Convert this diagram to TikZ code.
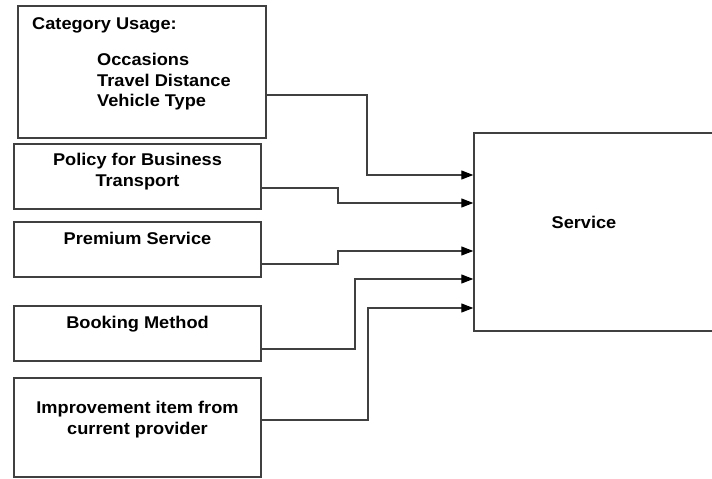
\documentclass[tikz,border=0pt]{standalone}
\usepackage{fontspec}
\setmainfont{Liberation Sans}[FakeStretch=1.07]
\usetikzlibrary{arrows.meta}

\begin{document}
\begin{tikzpicture}[x=1pt,y=-1pt,font=\fontsize{17}{20.5}\selectfont\bfseries]
\tikzstyle{box} = [rectangle, draw=black!75, line width=1.4pt, inner sep=0pt]
\tikzstyle{txt} = [inner sep=0pt, align=center, anchor=north]
\tikzstyle{arrow} = [draw=black!75, line width=1.2pt, -{Triangle[length=12pt,width=9pt,color=black]}]

\clip (0,0) rectangle (712,479);

\node (usage) [box, minimum width=248pt, minimum height=132pt] at (142,72) {};
\node (policy) [box, minimum width=247pt, minimum height=65pt] at (137.5,176.5) {};
\node (premium) [box, minimum width=247pt, minimum height=55pt] at (137.5,249.5) {};
\node (booking) [box, minimum width=247pt, minimum height=55pt] at (137.5,333.5) {};
\node (improve) [box, minimum width=247pt, minimum height=99pt] at (137.5,427.5) {};
\node (service) [box, minimum width=260pt, minimum height=198pt] at (604,232) {};

\node (usagetxt) [inner sep=0pt, anchor=north west] at (32,17) {Category Usage:};
\node (usagelist) [inner sep=0pt, align=left, anchor=north west] at (97,53) {Occasions\\Travel Distance\\Vehicle Type};
\node (policytxt) [txt] at (137.5,153) {Policy for Business\\Transport};
\node (premiumtxt) [txt] at (137.5,232) {Premium Service};
\node (bookingtxt) [txt] at (137.5,316) {Booking Method};
\node (improvetxt) [txt] at (137.5,401) {Improvement item from\\current provider};
\node (servicetxt) [inner sep=0pt] at (584,222) {Service};

\draw [arrow] (usage.east |- 0,95) -| (367,175) -- (service.west |- 0,175);
\draw [arrow] (policy.east |- 0,188) -| (338,203) -- (service.west |- 0,203);
\draw [arrow] (premium.east |- 0,264) -| (338,251) -- (service.west |- 0,251);
\draw [arrow] (booking.east |- 0,349) -| (355,279) -- (service.west |- 0,279);
\draw [arrow] (improve.east |- 0,420) -| (368,308) -- (service.west |- 0,308);
\end{tikzpicture}
\end{document}
